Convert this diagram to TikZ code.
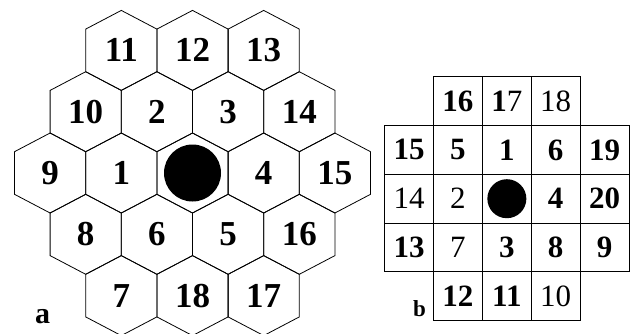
\documentclass[tikz,border=0pt]{standalone}
\usepackage{fontspec}
\setmainfont{Liberation Serif}
\usetikzlibrary{positioning}

\tikzset{
  hexline/.style={draw=black, line width=0.8pt},
  hexnum/.style={font=\fontsize{35}{35}\selectfont\bfseries, inner sep=0pt},
  sqcell/.style={draw=black, line width=0.9pt, minimum width=48.86pt,
    minimum height=48.8pt, inner sep=0pt, font=\fontsize{31}{31}\selectfont},
  partlabel/.style={inner sep=0pt, anchor=base west},
}

\begin{document}
\begin{tikzpicture}[x=1pt, y=-1pt]
  \useasboundingbox (0,0) rectangle (636,333);
  \clip (0,0) rectangle (636,333);

  % (a) hexagonal cells
  \foreach \q/\r/\num in {0/-2/11, 1/-2/12, 2/-2/13,
      -1/-1/10, 0/-1/2, 1/-1/3, 2/-1/14,
      -2/0/9, -1/0/1, 0/0/0, 1/0/4, 2/0/15,
      -2/1/8, -1/1/6, 0/1/5, 1/1/16,
      -2/2/7, -1/2/18, 0/2/17}{
    \coordinate (hc) at ({192.5+71.2*(\q+\r/2)}, {173+61.3*\r});
    \draw[hexline] (hc) ++(0,-40) -- ++(35.6,18.7) -- ++(0,42.6)
      -- ++(-35.6,18.7) -- ++(-35.6,-18.7) -- ++(0,-42.6) -- cycle;
    \ifnum\num>0
      \node[hexnum] (h\num) at (hc) {\num};
    \fi
  }
  \node[inner sep=0pt] (hcentre) at (192.5,173) {};
  \fill (hcentre) circle[radius=28.5pt];
  \node[partlabel, font=\fontsize{30}{30}\selectfont\bfseries] (labela) at (35,323) {a};

  % (b) square cells
  \foreach \r/\c/\txt in {0/1/\textbf{16}, 0/2/{\textbf{1}7}, 0/3/18,
      1/0/\textbf{15}, 1/1/\textbf{5}, 1/2/\textbf{1}, 1/3/\textbf{6}, 1/4/\textbf{19},
      2/0/14, 2/1/2, 2/2/{}, 2/3/\textbf{4}, 2/4/\textbf{20},
      3/0/\textbf{13}, 3/1/7, 3/2/\textbf{3}, 3/3/\textbf{8}, 3/4/\textbf{9},
      4/1/\textbf{12}, 4/2/\textbf{11}, 4/3/10}{
    \node[sqcell] (sq-\r-\c) at ({384.7+48.86*(\c+0.5)}, {76.7+48.8*(\r+0.5)}) {\txt};
  }
  \fill (sq-2-2.center) circle[radius=19.5pt];
  \node[partlabel, font=\fontsize{23}{23}\selectfont\bfseries] (labelb) at (413,316.7) {b};
\end{tikzpicture}
\end{document}
